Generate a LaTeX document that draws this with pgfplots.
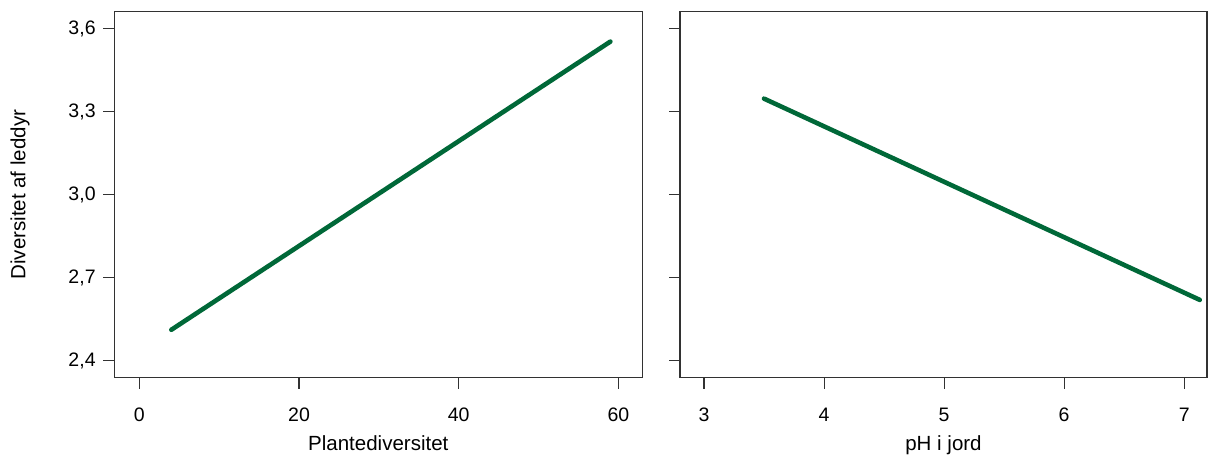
\documentclass[border=0pt]{standalone}
\usepackage{pgfplots}
\pgfplotsset{compat=1.18}
\usepackage{fontspec}
\setmainfont{Liberation Sans}
\definecolor{lgreen}{RGB}{0,104,56}
\definecolor{axgray}{RGB}{50,50,50}
\begin{document}
\fontsize{19.5}{22}\selectfont
\begin{tikzpicture}
\useasboundingbox (0pt,0pt) rectangle (1208pt,455pt);
\pgfplotsset{
  every axis/.append style={
    scale only axis, height=366pt,
    ymin=2.339, ymax=3.661,
    ytick={2.4,2.7,3.0,3.3,3.6},
    tick align=outside, major tick length=11pt,
    tick style={axgray, line width=1.1pt},
    axis line style={axgray, line width=1.1pt},
    xtick pos=bottom, ytick pos=left,
    /pgf/number format/assume math mode=true,
    yticklabel style={/pgf/number format/fixed, /pgf/number format/fixed zerofill, /pgf/number format/precision=1, /pgf/number format/use comma, xshift=-1pt},
    tick label style={font=\fontsize{19.5}{22}\selectfont},
    label style={font=\fontsize{20.5}{23}\selectfont},
    xticklabel style={anchor=base, yshift=-32.7pt},
    xlabel style={at={(axis description cs:0.5,-0.1995)}, anchor=base},
  }
}
\begin{axis}[at={(114.3pt,77.3pt)}, anchor=south west, width=528pt,
  xmin=-3.14, xmax=63.0, xtick={0,20,40,60},
  xlabel={Plantediversitet}, ylabel={Diversitet af leddyr},
  ylabel style={at={(axis description cs:-0.1786,0.5)}, anchor=center}]
\addplot[lgreen, line width=4.6pt, line cap=round] coordinates {(4,2.512) (59,3.553)};
\end{axis}
\begin{axis}[at={(680pt,77.3pt)}, anchor=south west, width=527pt,
  xmin=2.80, xmax=7.19, xtick={3,4,5,6,7},
  yticklabels={}, xlabel={pH i jord}]
\addplot[lgreen, line width=4.6pt, line cap=round] coordinates {(3.5,3.347) (7.13,2.620)};
\end{axis}
\end{tikzpicture}
\end{document}
